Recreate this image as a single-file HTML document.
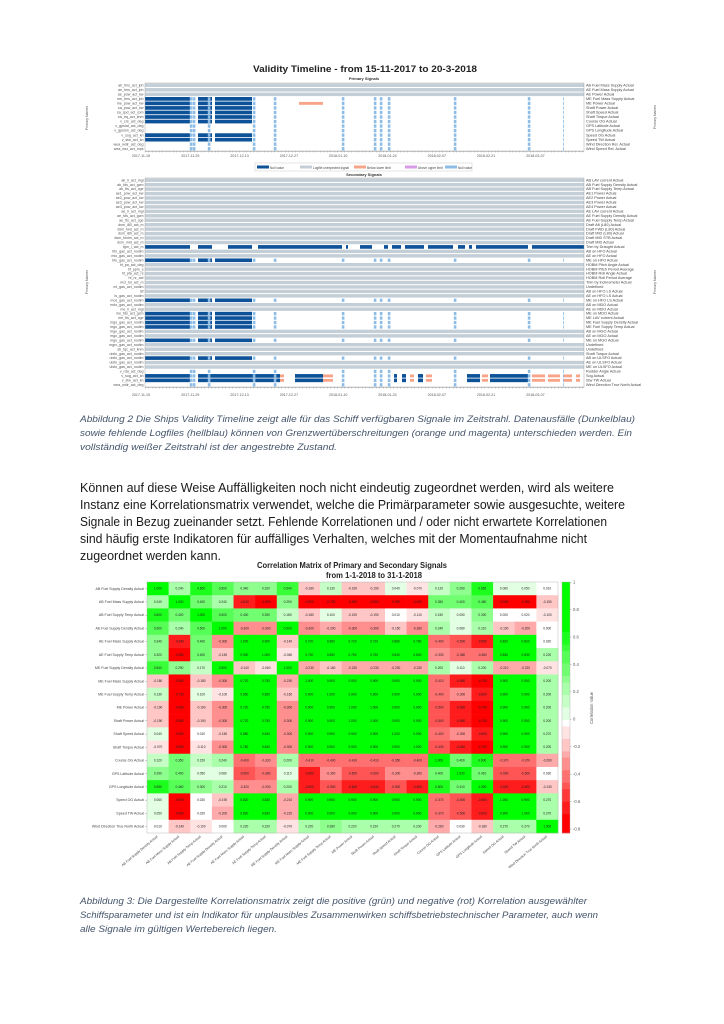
<!DOCTYPE html>
<html><head><meta charset="utf-8"><style>
html,body{margin:0;padding:0;background:#fff;}
svg{display:block;}
</style></head><body>
<svg id="s" xmlns="http://www.w3.org/2000/svg" width="724" height="1024" viewBox="0 0 724 1024" font-family="Liberation Sans, sans-serif">
<rect width="724" height="1024" fill="#fff"/>
<g id="g"></g>
<text x="253" y="72" font-size="9" font-weight="bold" fill="#222" textLength="224" lengthAdjust="spacingAndGlyphs">Validity Timeline -          from 15-11-2017 to 20-3-2018</text>
<text x="364" y="80" font-size="4" font-weight="bold" text-anchor="middle" fill="#333">Primary Signals</text>
<text x="364" y="176" font-size="4" font-weight="bold" text-anchor="middle" fill="#333">Secondary Signals</text>
<text x="257" y="568" font-size="8.5" font-weight="bold" fill="#222" textLength="190" lengthAdjust="spacingAndGlyphs">Correlation Matrix of Primary and Secondary Signals</text>
<text x="326" y="578" font-size="8.5" font-weight="bold" fill="#222" textLength="96" lengthAdjust="spacingAndGlyphs">from 1-1-2018 to 31-1-2018</text>
<g font-style="italic" font-size="9" fill="#44546a">
<text x="80" y="422" textLength="555" lengthAdjust="spacingAndGlyphs">Abbildung 2 Die Ships Validity Timeline zeigt alle für das Schiff verfügbaren Signale im Zeitstrahl. Datenausfälle (Dunkelblau)</text>
<text x="80" y="436" textLength="552" lengthAdjust="spacingAndGlyphs">sowie fehlende Logfiles (hellblau) können von Grenzwertüberschreitungen (orange und magenta) unterschieden werden. Ein</text>
<text x="80" y="450" textLength="257" lengthAdjust="spacingAndGlyphs">vollständig weißer Zeitstrahl ist der angestrebte Zustand.</text>
<text x="80" y="904" textLength="507" lengthAdjust="spacingAndGlyphs">Abbildung 3: Die Dargestellte Korrelationsmatrix zeigt die positive (grün) und negative (rot) Korrelation ausgewählter</text>
<text x="80" y="918" textLength="518" lengthAdjust="spacingAndGlyphs">Schiffsparameter und ist ein Indikator für unplausibles Zusammenwirken schiffsbetriebstechnischer Parameter, auch wenn</text>
<text x="80" y="932" textLength="197" lengthAdjust="spacingAndGlyphs">alle Signale im gültigen Wertebereich liegen.</text>
</g>
<g font-size="12.5" fill="#1a1a1a">
<text x="80" y="492" textLength="534" lengthAdjust="spacingAndGlyphs">Können auf diese Weise Auffälligkeiten noch nicht eindeutig zugeordnet werden, wird als weitere</text>
<text x="80" y="509" textLength="545" lengthAdjust="spacingAndGlyphs">Instanz eine Korrelationsmatrix verwendet, welche die Primärparameter sowie ausgesuchte, weitere</text>
<text x="80" y="526" textLength="527" lengthAdjust="spacingAndGlyphs">Signale in Bezug zueinander setzt. Fehlende Korrelationen und / oder nicht erwartete Korrelationen</text>
<text x="80" y="543" textLength="507" lengthAdjust="spacingAndGlyphs">sind häufig erste Indikatoren für auffälliges Verhalten, welches mit der Momentaufnahme nicht</text>
<text x="80" y="560" textLength="141" lengthAdjust="spacingAndGlyphs">zugeordnet werden kann.</text>
</g>
</svg>
<script>
(function(){
var o=[];
function R(x,y,w,h,c){o.push('<rect x="'+x.toFixed(2)+'" y="'+y.toFixed(2)+'" width="'+w.toFixed(2)+'" height="'+h.toFixed(2)+'" fill="'+c+'"/>');}
function T(x,y,s,t,a,c,extra){o.push('<text x="'+x.toFixed(2)+'" y="'+y.toFixed(2)+'" font-size="'+s+'" fill="'+(c||'#444')+'"'+(a?' text-anchor="'+a+'"':'')+(extra||'')+'>'+t+'</text>');}
var X0=145,X1=584,DB='#0d5299',LB='#8dbde6',GR='#c4ced6',OR='#f7a488';
var lbx=[191,194,209,254,275,343,375,381,389,455,529];
var ticks=['2017-11-15','2017-11-29','2017-12-13','2017-12-27','2018-01-10','2018-01-24','2018-02-07','2018-02-21','2018-03-07'];
function chart(Y0,Y1,rows,kinds,left,right,axisY){
 var n=rows, h=(Y1-Y0)/n;
 R(X0,Y0,X1-X0,Y1-Y0,'#fff');
 for(var i=0;i<n;i++){
  var y=Y0+i*h,k=kinds[i]||'g';
  if(k=='g'){R(X0,y+0.5,X1-X0,h-1,GR);}
  else{
   if(k=='d'){[[145,190],[198,212],[215,252]].forEach(function(s){R(s[0],y+0.4,s[1]-s[0],h-0.8,DB);});}
   if(k=='f'){[[145,190],[198,212],[228,252],[258,342],[346,348],[360,372],[384,388],[392,401],[405,424],[428,453],[458,465],[469,472],[476,528],[532,584]].forEach(function(s){R(s[0],y+0.4,s[1]-s[0],h-0.8,DB);});}
   if(k=='b'){[[145,190],[198,280],[295,323],[394,397],[402,406],[418,423],[467,480],[490,528]].forEach(function(s){R(s[0],y+0.4,s[1]-s[0],h-0.8,DB);});
     [[323,333],[280,284],[410,414],[426,432],[482,488],[532,545],[548,560],[563,572],[576,580]].forEach(function(s){R(s[0],y+0.8,s[1]-s[0],h-1.6,OR);});}
   if(k!='g'&&k!='f'){lbx.forEach(function(x){R(x-1.2,y+0.6,2.6,h-1.2,LB);});R(563,y+0.6,0.8,h-1.2,LB);}
  }
 }
 for(var i=0;i<n;i++){var y=Y0+i*h+h*0.75;
  T(X0-1.5,y,Math.min(3.6,h*0.9),left[i%left.length],'end','#555');
  T(X1+2,y,Math.min(3.8,h*0.9),right[i%right.length],null,'#444');}
 R(X0,Y1,X1-X0,0.5,'#888');
 for(var x=X0;x<X1;x+=3.5)R(x,Y1,0.3,1.5,'#777');
 ticks.forEach(function(t,j){T(141+j*49.3,axisY,3.6,t,'middle','#555');});
 o.push('<rect x="'+X0+'" y="'+Y0+'" width="'+(X1-X0)+'" height="'+(Y1-Y0)+'" fill="none" stroke="#999" stroke-width="0.4"/>');
}
var pk='gggddddddwwddww'.split('');
chart(83,151,15,pk,
['ab_fms_act_lph','ae_fms_act_lph','ae_pow_act_kw','me_fms_act_lph','me_pow_act_kw','sa_pow_act_kw','sa_spd_act_rpm','sa_trq_act_knm','v_crs_act_deg','v_gpslat_act_deg','v_gpslon_act_deg','v_sog_act_kn','v_stw_act_kn','wea_wdir_act_deg','wea_wsr_act_mps'],
['AB Fuel Mass Supply Actual','AE Fuel Mass Supply Actual','AE Power Actual','ME Fuel Mass Supply Actual','ME Power Actual','Shaft Power Actual','Shaft Speed Actual','Shaft Torque Actual','Course OG Actual','GPS Latitude Actual','GPS Longitude Actual','Speed OG Actual','Speed TW Actual','Wind Direction Rel. Actual','Wind Speed Rel. Actual'],157);
R(299,83+4*4.53+0.8,24,2.9,OR);
o.push('<rect x="255" y="163" width="217" height="8" fill="#fff" stroke="#bbb" stroke-width="0.4"/>');
[[257,DB,'Null value'],[300,GR,'Logfile unexpected signal'],[354,OR,'Below lower limit'],[405,'#d79be8','Above upper limit'],[445,LB,'Null value']].forEach(function(l){R(l[0],165.5,12,3,l[1]);T(l[0]+13,168.8,3.2,l[2],null,'#444');});
var sk=[];for(var i=0;i<47;i++)sk.push('g');
sk[15]='f';sk[18]='d';sk[27]='d';sk[30]='d';sk[31]='d';sk[32]='d';sk[33]='d';sk[36]='d';sk[40]='d';sk[43]='w';sk[44]='b';sk[45]='b';sk[46]='w';
chart(178,387,47,sk,
['ab_ll_act_mgl','ab_fds_act_gcm','ab_fts_act_cge','ae1_pow_act_kw','ae2_pow_act_kw','ae3_pow_act_kw','ae4_pow_act_kw','ae_ll_act_mgl','ae_fds_act_gcm','ae_fts_act_cge','dsm_l80_act_m','dsm_fwd_act_m','dsm_l80_act_m','dsm_fwdm_act_m','dsm_mid_act_m','tgm_l_act_m','hfo_gas_act_nodim','mio_gas_act_nodim','hfo_gas_act_nodim','hf_pa_act_deg','hf_ppm_s','hf_pfa_act_rs','hf_nr_act','mcr_tsl_act_m','ml_gas_act_nodim','lsf','ls_gas_act_nodim','mos_gas_act_nodim','mdo_gas_act_nodim','me_ll_act_mgl','me_fds_act_gcm','me_fts_act_cge','mgo_gas_act_nodim','mgo_gas_act_nodim','mgo_gas_act_nodim','mgo_gas_act_nodim','mgo_gas_act_nodim','mgrc_gas_act_nodim','sb_tqc_act_knm','ulsfo_gas_act_nodim','ulsfo_gas_act_nodim','ulsfo_gas_act_nodim','ulsfo_gas_act_nodim','v_rda_act_deg','v_sog_act_kn','v_stw_act_kn','wea_wdir_act_deg'],
['AB LAV current Actual','AB Fuel Supply Density Actual','AB Fuel Supply Temp Actual','AE1 Power Actual','AE2 Power Actual','AE3 Power Actual','AE4 Power Actual','AE LAV current Actual','AE Fuel Supply Density Actual','AE Fuel Supply Temp Actual','Draft Aft (L80) Actual','Draft FWD (L80) Actual','Draft MID (L80) Actual','Draft MID STB Actual','Draft MID Actual','Trim by Draught Actual','AB on HFO Actual','AE on HFO Actual','ME on HFO Actual','HOBM Pitch Angle Actual','HOBM Pitch Period Average','HOBM Roll Angle Actual','HOBM Roll Period Average','Trim by inclinometer Actual','Undefined','AB on HFO LS Actual','AE on HFO LS Actual','ME on HFO LS Actual','AB on MDO Actual','AE on MDO Actual','ME on MDO Actual','ME LAV current Actual','ME Fuel Supply Density Actual','ME Fuel Supply Temp Actual','AB on MGO Actual','AE on MGO Actual','ME on MGO Actual','Undefined','Undefined','Shaft Torque Actual','AB on ULSFO Actual','AE on ULSFO Actual','ME on ULSFO Actual','Rudder Angle Actual','Sog Actual','Stw TW Actual','Wind Direction True North Actual'],396);
T(88,118,3.5,'Primary Names','middle','#555',' transform="rotate(-90 88 118)"');
T(88,282,3.5,'Primary Names','middle','#555',' transform="rotate(-90 88 282)"');
T(656,117,3.5,'Primary Names','middle','#555',' transform="rotate(-90 656 117)"');
T(656,282,3.5,'Primary Names','middle','#555',' transform="rotate(-90 656 282)"');
var M=[
[1,.24,.6,.5,.34,.32,.54,-.18,.13,-.19,-.19,.04,-.07,.12,.29,.65,.06,.05,.01],
[.24,1,.4,.24,-.64,-.69,.29,-.9,-.73,-.9,-.9,-.9,-.9,.35,.4,.46,-.9,-.9,-.15],
[.6,.4,1,.5,.4,.39,.18,-.18,.1,-.19,-.19,.01,-.11,.15,.05,.3,.02,.02,-.1],
[.5,.24,.5,1,-.3,-.3,.9,-.3,-.2,-.3,-.3,-.15,-.3,.24,.08,.21,-.19,-.2,0],
[.34,-.64,.4,-.3,1,.9,-.14,.72,.85,.72,.72,.88,.78,-.4,-.5,-.59,.82,.82,.02],
[.32,-.69,.4,-.15,.9,1,-.06,.75,.85,.75,.75,.84,.84,-.33,-.38,-.36,.83,.83,.22],
[.54,.29,.17,.9,-.14,-.06,1,-.23,-.16,-.23,-.23,-.23,-.23,.2,.11,.2,-.21,-.22,-.07],
[-.18,-.9,-.18,-.3,.72,.75,-.23,1,.9,.9,.9,.9,.9,-.41,-.65,-.7,.9,.9,.2],
[.13,-.73,.1,-.1,.85,.85,-.16,.9,1,.9,.9,.9,.9,-.4,-.3,-.6,.9,.9,.2],
[-.19,-.9,-.19,-.3,.72,.75,-.3,.9,.9,1,1,.9,.9,-.5,-.65,-.7,.9,.9,.2],
[-.19,-.9,-.19,-.3,.72,.75,-.3,.9,.9,1,1,.9,.9,-.5,-.65,-.7,.9,.9,.2],
[.04,-.9,.01,-.15,.88,.84,-.3,.9,.9,.9,.9,1,.9,-.4,-.3,-.6,.9,.9,.27],
[-.07,-.9,-.11,-.3,.78,.84,-.3,.9,.9,.9,.9,.9,1,-.43,-.64,-.7,.9,.9,.2],
[.12,.35,.15,.24,-.4,-.33,.2,-.41,-.4,-.41,-.41,-.35,-.4,1,.4,.6,-.37,-.37,-.26],
[.29,.4,.05,.08,-.5,-.38,.11,-.65,-.3,-.5,-.5,-.3,-.3,.4,1,.41,-.5,-.5,.03],
[.65,.46,.3,.21,-.32,-.33,.2,-.6,-.5,-.64,-.64,-.5,-.6,.6,.41,1,-.6,-.6,-.13],
[.06,-.9,.02,-.19,.82,.83,-.21,.9,.9,.9,.9,.9,.9,-.37,-.5,-.6,1,.9,.27],
[.05,-.9,.02,-.2,.82,.83,-.22,.9,.9,.9,.9,.9,.9,-.37,-.5,-.6,.9,1,.27],
[.01,-.14,-.1,0,.22,.22,-.07,.22,.28,.22,.22,.27,.23,-.26,.03,-.18,.27,.27,1]];
function col(v){var t=Math.min(1,Math.abs(v)/0.7);t=Math.round(t*9)/9;var c=Math.round(255*(1-t));return v>=0?'rgb('+c+',255,'+c+')':'rgb(255,'+c+','+c+')';}
var MX0=147,MX1=558,MY0=582,MY1=833,cw=(MX1-MX0)/19,ch=(MY1-MY0)/19;
var names=['AB Fuel Supply Density Actual','AB Fuel Mass Supply Actual','AB Fuel Supply Temp Actual','AE Fuel Supply Density Actual','AE Fuel Mass Supply Actual','AE Fuel Supply Temp Actual','ME Fuel Supply Density Actual','ME Fuel Mass Supply Actual','ME Fuel Supply Temp Actual','ME Power Actual','Shaft Power Actual','Shaft Speed Actual','Shaft Torque Actual','Course OG Actual','GPS Latitude Actual','GPS Longitude Actual','Speed OG Actual','Speed TW Actual','Wind Direction True North Actual'];
for(var i=0;i<19;i++)for(var j=0;j<19;j++){var v=M[i][j];R(MX0+j*cw,MY0+i*ch,cw+0.3,ch+0.3,col(v));T(MX0+j*cw+cw/2,MY0+i*ch+ch/2+1.1,3.2,v.toFixed(3),'middle','#222');}
for(var i=0;i<19;i++){T(MX0-3,MY0+i*ch+ch/2+1.2,3.6,names[i],'end','#444');R(MX0-2,MY0+i*ch+ch/2,2,0.3,'#666');
 var cx=MX0+i*cw+cw/2;T(cx,MY1+4,3.4,names[i],'end','#444',' transform="rotate(-40 '+cx.toFixed(2)+' '+(MY1+4)+')"');}
o.push('<rect x="'+MX0+'" y="'+MY0+'" width="'+(MX1-MX0)+'" height="'+(MY1-MY0)+'" fill="none" stroke="#aaa" stroke-width="0.4"/>');
var cbx=562,cbw=8;for(var k=0;k<40;k++){var v=1-k*(1.83/40);R(cbx,MY0+k*(MY1-MY0)/40,cbw,(MY1-MY0)/40+0.3,col(v));}
o.push('<rect x="'+cbx+'" y="'+MY0+'" width="'+cbw+'" height="'+(MY1-MY0)+'" fill="none" stroke="#aaa" stroke-width="0.4"/>');
[1,.8,.6,.4,.2,0,-.2,-.4,-.6,-.8].forEach(function(v){var y=MY0+(1-v)/1.83*(MY1-MY0);R(cbx+cbw,y,1.5,0.3,'#666');T(cbx+cbw+3,y+1.5,4.2,String(v),null,'#555');});
T(593,708,4.2,'Correlation Value','middle','#555',' transform="rotate(-90 593 708)"');
document.getElementById('g').innerHTML=o.join('');
})();
</script>
</body></html>
